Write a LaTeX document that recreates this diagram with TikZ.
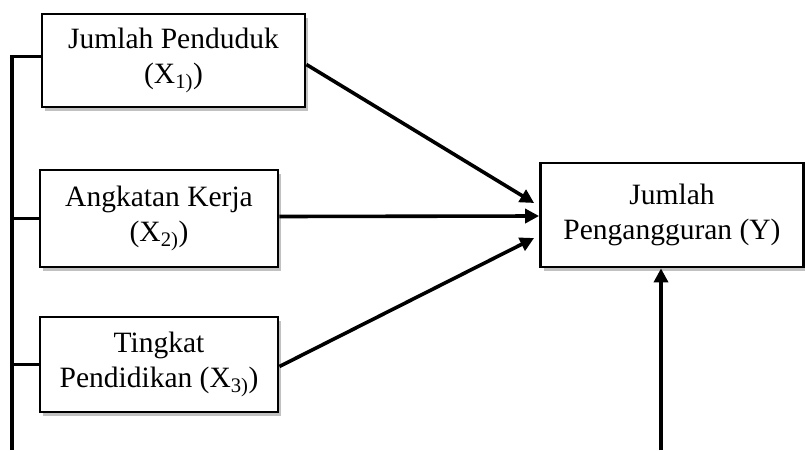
\documentclass[tikz,border=0pt]{standalone}
\usepackage{fontspec}
\setmainfont{Liberation Serif}
\usetikzlibrary{arrows.meta,shadows,positioning}

\begin{document}
\begin{tikzpicture}[x=1pt,y=-1pt,
    var/.style={rectangle,draw,line width=2.8pt,fill=white,align=center,
      inner sep=2pt,font=\fontsize{29.5}{35}\selectfont,
      drop shadow={shadow xshift=3pt,shadow yshift=-4pt,fill=black!35,opacity=.7}},
    arrow/.style={line width=3.6pt,-{Triangle[length=14pt,width=14pt]}},
    bus/.style={line width=3.6pt}]
 \useasboundingbox (0,0) rectangle (805,450);
 % independent variables
 \foreach \T/\X/\Y/\W/\H [count=\Z] in
   {{Jumlah Penduduk\\(X\textsubscript{1)})}/173.5/60.5/263/93,
    {Angkatan Kerja\\(X\textsubscript{2)})}/159/218.5/238/97,
    {Tingkat\\Pendidikan (X\textsubscript{3)})}/159/364.5/238/95}
 {\node[var,minimum width=\W pt,minimum height=\H pt] (x-\Z) at (\X,\Y) {\T};}
 % dependent variable
 \node[var,minimum width=263pt,minimum height=104pt] (y) at (672,215)
   {Jumlah\\Pengangguran (Y)};
 \coordinate (bus-end) at (12,450);
 \coordinate (src) at (661,450);
 \draw[bus] ([yshift=4pt]x-1.west) -| (bus-end);
 \foreach \Z in {2,3}
  {\draw[bus] (x-\Z.west) -- (x-\Z.west -| bus-end);}
 \draw[arrow] ([yshift=-4pt]x-1.east) -- ([xshift=-5pt,yshift=12pt]y.west);
 \draw[arrow] ([yshift=2pt]x-2.east) -- ([yshift=-1pt]y.west);
 \draw[arrow] ([yshift=-2pt]x-3.east) -- ([xshift=-5pt,yshift=-23pt]y.west);
 \draw[arrow] (src) -- (src |- y.south);
\end{tikzpicture}
\end{document}
